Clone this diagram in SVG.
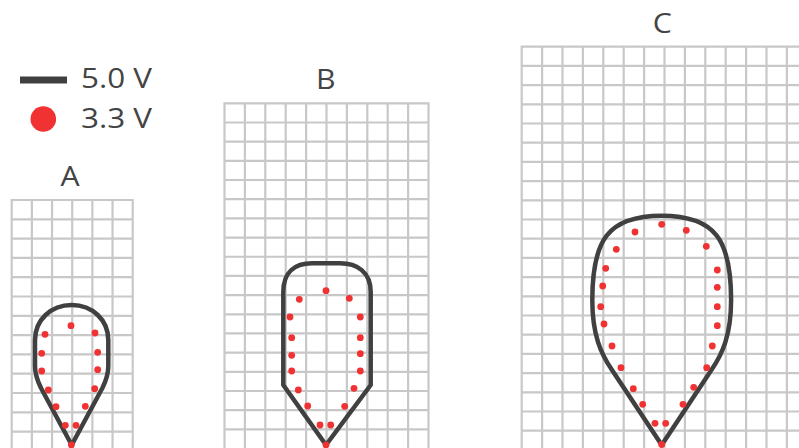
<svg xmlns="http://www.w3.org/2000/svg" width="799" height="448" viewBox="0 0 799 448">
<style>
.grid{fill:none;stroke:#c8c8c8;stroke-width:2.2;stroke-linecap:square}
.outline{fill:none;stroke:#404040;stroke-width:4.5;stroke-linejoin:round}
.dot{fill:#f03232}
.lbl{font-family:"Open Sans","DejaVu Sans",sans-serif;font-size:28px;fill:#444}
</style>
<rect width="799" height="448" fill="#ffffff"/>
<g id="legend">
<line x1="20" y1="80" x2="67" y2="80" stroke="#404040" stroke-width="7"/>
<text class="lbl" x="81" y="88.3" textLength="71" lengthAdjust="spacingAndGlyphs">5.0 V</text>
<circle cx="43.3" cy="119" r="12.8" class="dot"/>
<text class="lbl" x="81" y="128.3" textLength="71" lengthAdjust="spacingAndGlyphs">3.3 V</text>
</g>
<g id="panel-A">
<text class="lbl" x="70" y="186" text-anchor="middle" transform="translate(70,0) scale(1.08,1) translate(-70,0)">A</text>
<path class="grid" d="M11.7,200V449M31.87,200V449M52.04,200V449M72.21,200V449M92.38,200V449M112.55,200V449M132.72,200V449M11.7,200H132.72M11.7,219.3H132.72M11.7,238.6H132.72M11.7,257.9H132.72M11.7,277.2H132.72M11.7,296.5H132.72M11.7,315.8H132.72M11.7,335.1H132.72M11.7,354.4H132.72M11.7,373.7H132.72M11.7,393H132.72M11.7,412.3H132.72M11.7,431.6H132.72"/>
<path class="outline" d="M71.7,445L41,388C37,380 35,374 35,366L35,340C35,320 51,305 71.7,305C92.4,305 108.3,320 108.3,340L108.3,366C108.3,374 106.4,380 102.4,388Z"/>
<g class="dot">
<circle cx="71" cy="325.7" r="3.4"/><circle cx="45" cy="334.3" r="3.4"/><circle cx="95" cy="333" r="3.4"/>
<circle cx="41.7" cy="353.3" r="3.4"/><circle cx="97.7" cy="352.3" r="3.4"/>
<circle cx="41.7" cy="371" r="3.4"/><circle cx="97.7" cy="369.7" r="3.4"/>
<circle cx="48.3" cy="390" r="3.4"/><circle cx="94.7" cy="388.7" r="3.4"/>
<circle cx="56" cy="406.7" r="3.4"/><circle cx="85.3" cy="406.3" r="3.4"/>
<circle cx="65.3" cy="425.3" r="3.4"/><circle cx="76" cy="425.3" r="3.4"/>
<circle cx="71.4" cy="445" r="3.4"/>
</g>
</g>
<g id="panel-B">
<text class="lbl" x="325.8" y="89.3" text-anchor="middle" transform="translate(325.8,0) scale(1.08,1) translate(-325.8,0)">B</text>
<path class="grid" d="M224.5,103.3V449M244.9,103.3V449M265.3,103.3V449M285.7,103.3V449M306.1,103.3V449M326.5,103.3V449M346.9,103.3V449M367.3,103.3V449M387.7,103.3V449M408.1,103.3V449M428.5,103.3V449M224.5,103.3H428.5M224.5,122.48H428.5M224.5,141.66H428.5M224.5,160.84H428.5M224.5,180.02H428.5M224.5,199.2H428.5M224.5,218.38H428.5M224.5,237.56H428.5M224.5,256.74H428.5M224.5,275.92H428.5M224.5,295.1H428.5M224.5,314.28H428.5M224.5,333.46H428.5M224.5,352.64H428.5M224.5,371.82H428.5M224.5,391H428.5M224.5,410.18H428.5M224.5,429.36H428.5"/>
<path class="outline" d="M326,445L283.3,385L283.3,292C283.3,272 295,263.3 312,263.3L340,263.3C357,263.3 370.7,272 370.7,292L370.7,385Z"/>
<g class="dot">
<circle cx="326" cy="290.7" r="3.4"/><circle cx="299.3" cy="299.3" r="3.4"/><circle cx="349.3" cy="298.3" r="3.4"/>
<circle cx="290" cy="317" r="3.4"/><circle cx="360.3" cy="317" r="3.4"/>
<circle cx="291.7" cy="337.7" r="3.4"/><circle cx="360.3" cy="337.7" r="3.4"/>
<circle cx="291.7" cy="355.3" r="3.4"/><circle cx="360.3" cy="353.7" r="3.4"/>
<circle cx="291.7" cy="371" r="3.4"/><circle cx="360.3" cy="371" r="3.4"/>
<circle cx="298.3" cy="390" r="3.4"/><circle cx="354" cy="388.3" r="3.4"/>
<circle cx="307.7" cy="406" r="3.4"/><circle cx="344.7" cy="406.3" r="3.4"/>
<circle cx="320" cy="425" r="3.4"/><circle cx="330.7" cy="425" r="3.4"/>
<circle cx="326" cy="445" r="3.4"/>
</g>
</g>
<g id="panel-C">
<text class="lbl" x="662.3" y="33.3" text-anchor="middle" transform="translate(662.3,0) scale(1.08,1) translate(-662.3,0)">C</text>
<path class="grid" d="M521.7,46.7V449M542.1,46.7V449M562.5,46.7V449M582.9,46.7V449M603.3,46.7V449M623.7,46.7V449M644.1,46.7V449M664.5,46.7V449M684.9,46.7V449M705.3,46.7V449M725.7,46.7V449M746.1,46.7V449M766.5,46.7V449M786.9,46.7V449M521.7,46.7H800M521.7,65.9H800M521.7,85.1H800M521.7,104.3H800M521.7,123.5H800M521.7,142.7H800M521.7,161.9H800M521.7,181.1H800M521.7,200.3H800M521.7,219.5H800M521.7,238.7H800M521.7,257.9H800M521.7,277.1H800M521.7,296.3H800M521.7,315.5H800M521.7,334.7H800M521.7,353.9H800M521.7,373.1H800M521.7,392.3H800M521.7,411.5H800M521.7,430.7H800"/>
<path class="outline" d="M661.7,445L612,370C601,354 592.3,335 592.3,300C592.3,240 608,215.7 661.7,215.7C715.4,215.7 731.1,240 731.1,300C731.1,335 722.4,354 711.4,370Z"/>
<g class="dot">
<circle cx="661.7" cy="224.3" r="3.4"/><circle cx="635" cy="232" r="3.4"/><circle cx="686.3" cy="230.3" r="3.4"/>
<circle cx="616.3" cy="249.3" r="3.4"/><circle cx="706.3" cy="246.3" r="3.4"/>
<circle cx="605.7" cy="268.3" r="3.4"/><circle cx="717.3" cy="270" r="3.4"/>
<circle cx="602.7" cy="286" r="3.4"/><circle cx="717.3" cy="287.3" r="3.4"/>
<circle cx="600.7" cy="306.7" r="3.4"/><circle cx="717.3" cy="306.7" r="3.4"/>
<circle cx="604" cy="324" r="3.4"/><circle cx="717.3" cy="325.7" r="3.4"/>
<circle cx="612" cy="346" r="3.4"/><circle cx="712.3" cy="346" r="3.4"/>
<circle cx="621" cy="367.7" r="3.4"/><circle cx="706.7" cy="367.7" r="3.4"/>
<circle cx="633.3" cy="388.7" r="3.4"/><circle cx="693.7" cy="387.3" r="3.4"/>
<circle cx="642.7" cy="404.3" r="3.4"/><circle cx="683" cy="404.3" r="3.4"/>
<circle cx="655" cy="423.3" r="3.4"/><circle cx="665.7" cy="423.3" r="3.4"/>
<circle cx="661.7" cy="444.5" r="3.4"/>
</g>
</g>
</svg>
